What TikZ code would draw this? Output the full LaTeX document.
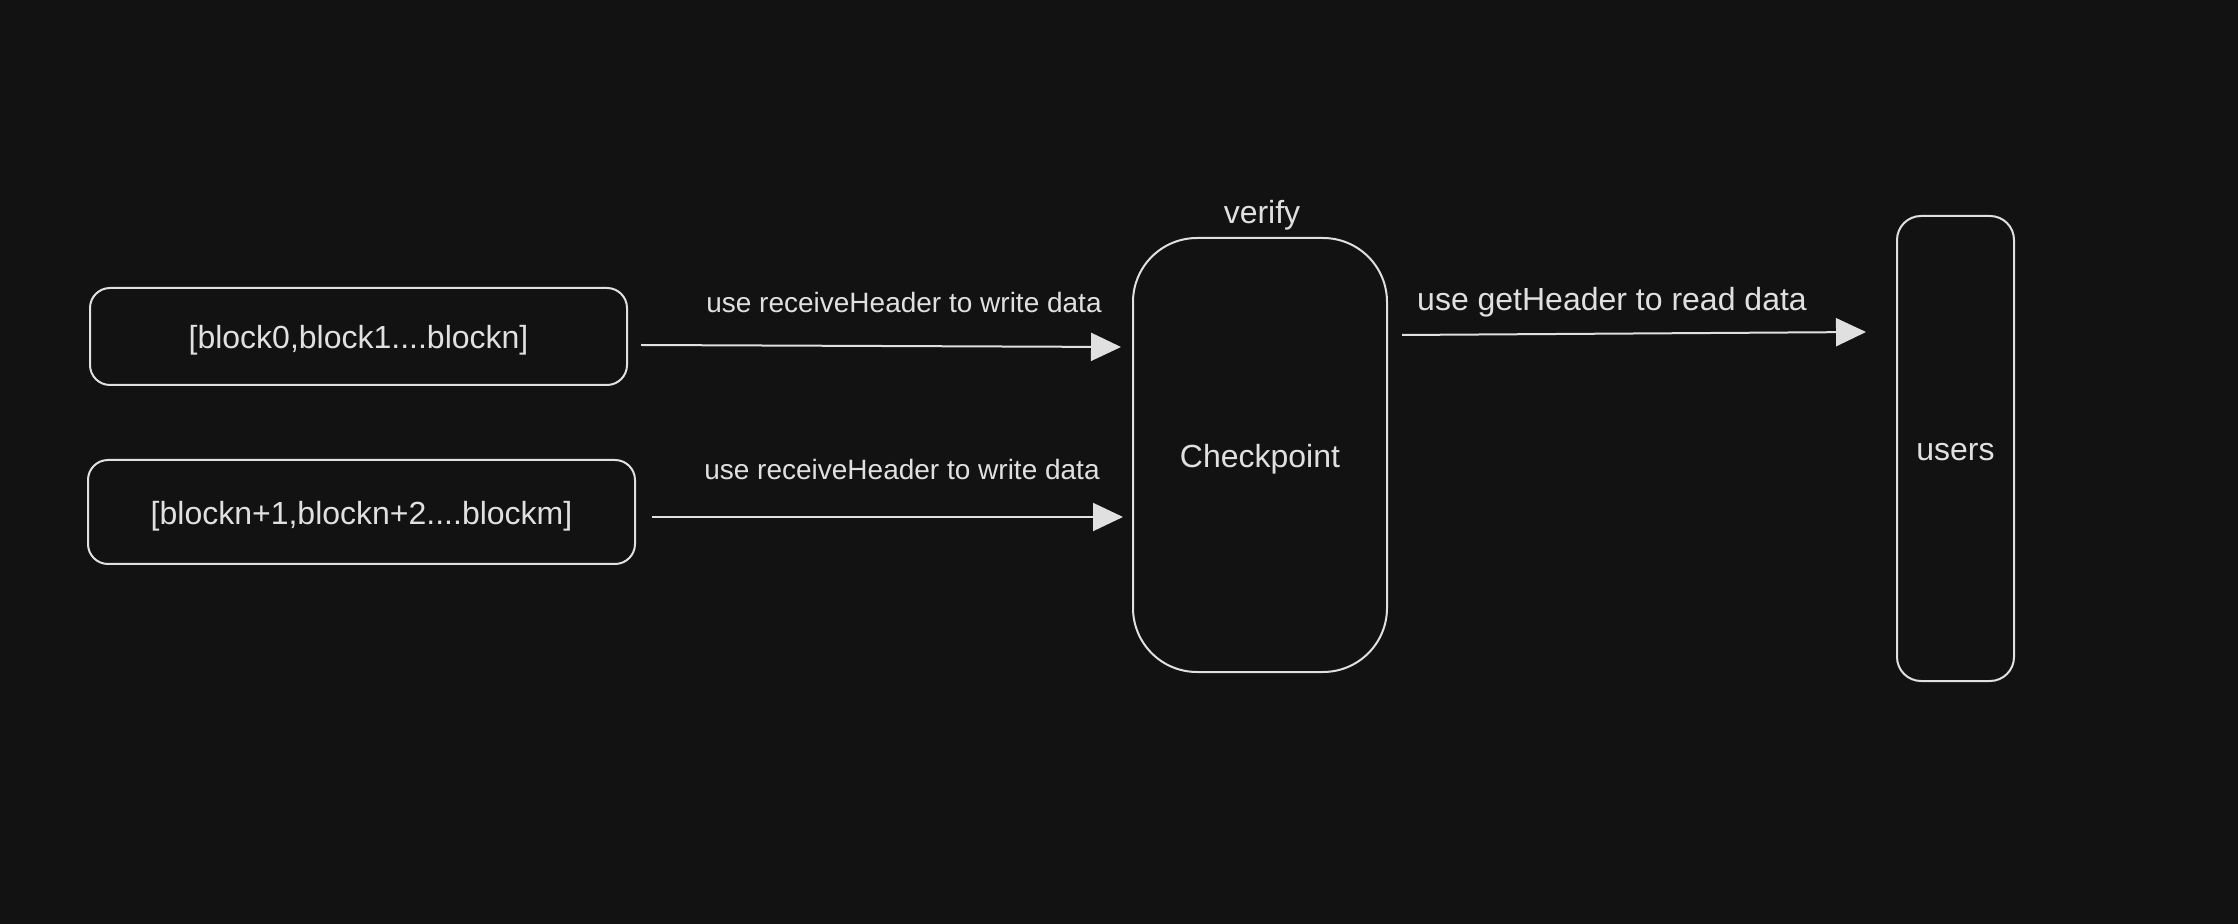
\documentclass[tikz,border=0pt]{standalone}
\usepackage{fontspec}
\setmainfont{Liberation Sans}
\usetikzlibrary{arrows.meta}
\definecolor{bg}{HTML}{121212}
\definecolor{fg}{HTML}{E0E0E0}
\tikzset{
	box/.style={draw=fg, line width=1pt, text=fg, font=\fontsize{16}{19}\selectfont, text height=13.5pt, text depth=1.2pt},
	flow/.style={draw=fg, line width=1pt, arrows={-{Triangle[length=15pt,width=14pt,fill=fg]}}},
	lbl/.style={text=fg, font=\fontsize{14}{17}\selectfont}
}
\begin{document}
\begin{tikzpicture}[x=0.5pt,y=-0.5pt]
	% Background
	\fill [bg] (0,0) rectangle (2238,924);
	\useasboundingbox (0,0) rectangle (2238,924);
	% Boxes
	\node [box, rounded corners=10pt, minimum width=268.5pt, minimum height=48.5pt] (blocksA) at (358.5,336.5) {[block0,block1....blockn]};
	\node [box, rounded corners=10pt, minimum width=273.5pt, minimum height=52pt] (blocksB) at (361.5,512) {[blockn+1,blockn+2....blockm]};
	\node [box, rounded corners=32pt, minimum width=127pt, minimum height=217pt] (checkpoint) at (1260,455) {Checkpoint};
	\node [box, rounded corners=12pt, minimum width=58.5pt, minimum height=232.5pt] (users) at (1955.5,448.5) {users};
	\node [box, draw=none] (verify) at (1262,211) {verify};
	% Arrows
	\coordinate (a1s) at (641,345);\coordinate (a1e) at (1121,347);
	\coordinate (a2s) at (652,517);\coordinate (a2e) at (1123,517);
	\coordinate (a3s) at (1402,335);\coordinate (a3e) at (1866,332);
	\draw [flow] (a1s) -- (a1e);\node [lbl] (l1) at (904,302) {use receiveHeader to write data};
	\draw [flow] (a2s) -- (a2e);\node [lbl] (l2) at (902,469) {use receiveHeader to write data};
	\draw [flow] (a3s) -- (a3e);\node [box, draw=none] (l3) at (1612,298) {use getHeader to read data};
\end{tikzpicture}
\end{document}
